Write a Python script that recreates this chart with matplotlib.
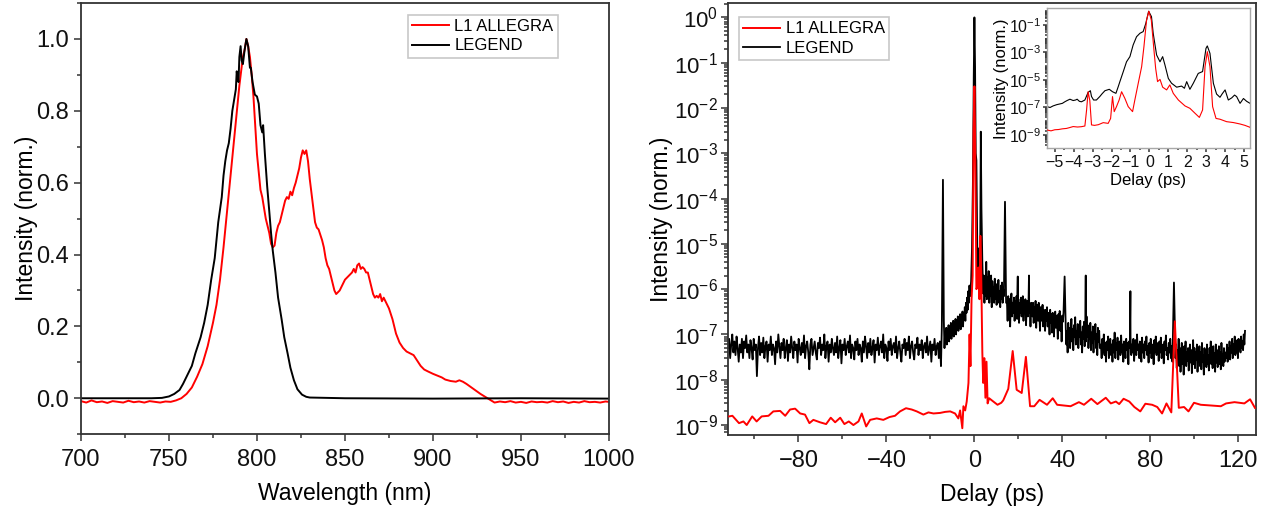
import numpy as np
import matplotlib
matplotlib.use("Agg")
import matplotlib.pyplot as plt
from matplotlib.ticker import MultipleLocator, FixedLocator, LogLocator, NullFormatter, FormatStrFormatter

plt.rcParams['font.family'] = ['Liberation Sans', 'DejaVu Sans']
plt.rcParams['mathtext.default'] = 'regular'
plt.rcParams['axes.unicode_minus'] = True

# ---------------- Left panel: spectra ----------------
spec_red_wl = [700, 703, 706, 709, 712, 715, 718, 721, 724, 727, 730, 733, 736, 739, 742, 745, 748, 751, 754,
               757, 760, 763, 766, 769, 772, 775, 777, 779, 781, 783, 785, 787, 789, 790, 791, 792, 793, 794,
               795, 796, 797, 798, 799, 800, 801, 802, 803, 804, 805, 806, 807, 808, 809, 810, 811, 812, 813,
               814, 815, 816, 817, 818, 819, 820, 821, 822, 823, 824, 825, 826, 827, 828, 829, 830, 831, 832,
               833, 834, 835, 836, 837, 838, 839, 840, 841, 842, 843, 844, 845, 846, 847, 848, 849, 850, 852,
               854, 855, 856, 857, 858, 859, 860, 861, 862, 863, 864, 865, 866, 867, 868, 869, 870, 871, 872,
               873, 875, 877, 879, 881, 883, 885, 887, 889, 891, 893, 895, 897, 900, 903, 905, 907, 910, 913,
               915, 917, 919, 921, 923, 925, 927, 929, 931, 933, 935, 938, 941, 944, 947, 950, 953, 956, 959,
               962, 965, 968, 971, 974, 977, 980, 983, 986, 989, 992, 995, 998, 1000]
spec_red_int = [-0.008, -0.012, -0.006, -0.011, -0.009, -0.013, -0.008, -0.010, -0.012, -0.007, -0.011, -0.009,
                -0.012, -0.008, -0.010, -0.012, -0.009, -0.010, -0.006,
                0.000, 0.012, 0.030, 0.060, 0.095, 0.145, 0.21, 0.26, 0.33, 0.42, 0.52, 0.62, 0.72, 0.82, 0.87,
                0.91, 0.95, 0.97, 1.00,
                0.98, 0.95, 0.90, 0.84, 0.76, 0.68, 0.63, 0.58, 0.56, 0.53, 0.50, 0.48, 0.46, 0.43, 0.42, 0.425,
                0.46, 0.48, 0.49, 0.51, 0.53, 0.55, 0.56, 0.555, 0.575, 0.565, 0.585, 0.60, 0.62, 0.64, 0.67,
                0.69, 0.68, 0.69, 0.66, 0.61, 0.57, 0.53, 0.49, 0.475, 0.47, 0.455, 0.44, 0.42, 0.39, 0.37, 0.36,
                0.34, 0.32, 0.30, 0.29, 0.295, 0.30, 0.31, 0.32, 0.33, 0.34, 0.35, 0.36, 0.35, 0.37, 0.375, 0.36,
                0.365, 0.36, 0.35, 0.35, 0.33, 0.31, 0.29, 0.28, 0.285, 0.28, 0.29, 0.27, 0.28, 0.27, 0.25, 0.22,
                0.18, 0.155, 0.14, 0.13, 0.125, 0.12, 0.105, 0.09, 0.08, 0.075, 0.068, 0.062, 0.058, 0.052,
                0.048, 0.046, 0.05, 0.046, 0.04, 0.033, 0.026, 0.019, 0.012, 0.006, 0.0, -0.006, -0.012, -0.009,
                -0.011, -0.008, -0.012, -0.010, -0.013, -0.009, -0.011, -0.010, -0.012, -0.008, -0.011, -0.009,
                -0.013, -0.010, -0.012, -0.008, -0.011, -0.010, -0.012, -0.009, -0.010]

spec_blk_wl = [700, 720, 740, 746, 750, 753, 756, 758, 760, 763, 765, 768, 770, 772, 774, 776, 778, 780, 781,
               782, 783, 784, 785, 786, 787, 788, 788.5, 789, 789.5, 790, 790.7, 791.3, 792, 793, 794, 795, 796,
               796.5, 797.5, 798.8, 800, 801, 802, 803, 803.5, 804.5, 805.8, 807, 808, 809, 810.5, 812, 814,
               815.5, 817.4, 819, 821, 823, 825.6, 828, 830, 850, 900, 950, 1000]
spec_blk_int = [0.0, 0.0, 0.0, 0.001, 0.005, 0.012, 0.023, 0.04, 0.06, 0.09, 0.125, 0.17, 0.21, 0.26, 0.33,
                0.39, 0.49, 0.56, 0.62, 0.66, 0.69, 0.71, 0.75, 0.80, 0.83, 0.86, 0.91, 0.89, 0.88, 0.95, 0.98,
                0.94, 0.93, 0.97, 1.00, 0.98, 0.92, 0.92, 0.88, 0.845, 0.84, 0.82, 0.76, 0.74, 0.76, 0.68, 0.59,
                0.52, 0.46, 0.41, 0.35, 0.28, 0.22, 0.17, 0.125, 0.085, 0.05, 0.025, 0.01, 0.004, 0.002, 0.0,
                -0.001, 0.0, -0.001]

# ---------------- Right panel: autocorrelation ----------------
ac_red_delay = [-111.5, -110, -107, -105, -103.5, -101, -99, -96.7, -93.6, -91.4, -88.3, -86, -83.8, -81.5,
                -79.2, -77, -75, -73.2, -70.2, -67.4, -65.3, -63.3, -61, -59.1, -57.1, -55, -52.7, -51.2,
                -49.2, -47.4, -44.4, -41.4, -38.6, -36.1, -33.8, -31.1, -28.5, -26.2, -23.2, -20.9, -18.6,
                -15.6, -13.3, -11, -8.8, -7.3, -6.5, -5.5, -5.0, -4.2, -3.5, -2.7, -2.2, -1.8, -1.3, -0.8,
                -0.4, 0.0, 0.4, 0.9, 1.3, 1.8, 2.3, 2.7, 3.1, 3.6, 4.0, 4.5, 5.0, 5.5, 6.0, 6.7, 8.6, 10.5,
                12.2, 13.1, 15.4, 17.4, 19.2, 21.5, 23.4, 25.3, 27.2, 29.6, 33, 35.6, 37.6, 40.6, 43.7, 47.5,
                49.8, 53.1, 55.9, 59.7, 62, 64.3, 65.8, 67.8, 70.4, 72.7, 75.4, 77.7, 80.8, 83.1, 85.3, 87.3,
                89.5, 91.1, 92.9, 95.3, 97.3, 99.8, 102.9, 107.5, 112, 114.4, 118.2, 122.7, 125.3, 127.5]
ac_red_int = [1.55e-9, 1.6e-9, 1.1e-9, 1.2e-9, 1.0e-9, 1.55e-9, 1.2e-9, 1.55e-9, 1.6e-9, 2.0e-9, 2.05e-9,
              1.6e-9, 2.2e-9, 2.3e-9, 1.8e-9, 1.7e-9, 1.1e-9, 1.3e-9, 1.15e-9, 1.05e-9, 1.45e-9, 1.15e-9,
              1.45e-9, 1.05e-9, 1.2e-9, 1.0e-9, 1.2e-9, 1.8e-9, 0.93e-9, 1.3e-9, 1.4e-9, 1.3e-9, 1.5e-9,
              1.6e-9, 2.0e-9, 2.35e-9, 2.2e-9, 2.0e-9, 1.7e-9, 1.9e-9, 1.8e-9, 1.85e-9, 1.95e-9, 2.0e-9,
              1.8e-9, 1.4e-9, 2.1e-9, 0.85e-9, 2.6e-9, 2.1e-9, 3.3e-9, 8.5e-9, 1.0e-7, 2e-8, 6e-7, 2e-6,
              3e-3, 3e-2, 1e-3, 1e-6, 1.1e-6, 3e-6, 6e-7, 1.5e-5, 2e-6, 4e-8, 8.5e-9, 3e-8, 4e-9, 2.5e-8,
              3e-9, 3.9e-9, 3.3e-9, 2.8e-9, 3.1e-9, 3.5e-9, 6.3e-9, 4.3e-8, 6e-9, 5.1e-9, 3.2e-8, 2.6e-9,
              2.6e-9, 3.6e-9, 2.8e-9, 3.9e-9, 2.8e-9, 2.7e-9, 2.6e-9, 3.2e-9, 2.8e-9, 3.8e-9, 2.9e-9,
              4.0e-9, 3.0e-9, 3.3e-9, 2.9e-9, 3.8e-9, 3.3e-9, 2.5e-9, 2.0e-9, 2.95e-9, 2.8e-9, 2.5e-9,
              1.8e-9, 3.0e-9, 1.9e-9, 1.95e-7, 2.4e-9, 2.5e-9, 2.0e-9, 3.1e-9, 2.8e-9, 2.7e-9, 2.6e-9,
              3.0e-9, 3.2e-9, 3.0e-9, 3.7e-9, 2.4e-9]

ac_blk_seg_a = [5, 8, 3, 6, 10, 4, 7, 3.5, 9, 5, 2.5, 6, 4, 8, 3, 7, 5, 9.5, 4, 6,
                3, 7.5, 5, 2.8, 8, 4.5, 6, 1.2, 5, 9, 3.5, 6.5, 4, 8.5, 3, 5.5, 7, 2.5, 6, 4.5,
                9, 3.5, 6, 5, 2.2, 7, 4, 10, 5.5, 3, 6.5, 4.5, 8, 3, 5, 7.5, 2.6, 6, 4, 9,
                5, 3, 7, 4.5, 6, 2.4, 8, 5, 3.5, 6.5, 4, 9.5, 3, 5.5, 7, 4, 1.7, 6, 8, 3.5,
                5, 7, 4, 2.8, 6.5, 5, 8.5, 3.5, 6, 4.5, 10, 3, 5.5, 7, 2.5, 6, 4, 8, 5, 3.5,
                6.5, 4, 9, 3, 5, 7.5, 2.3, 6, 4.5, 8, 3.5, 5.5, 7, 4, 9.5, 3, 6, 5, 2.8, 7,
                4.5, 8, 3.5, 6, 5, 2.5, 7, 4, 9, 5.5, 3, 6.5, 4, 8, 3.5, 5, 7.5, 2.4, 6, 4.5,
                8.5, 3.5, 5.5, 7, 4, 10, 3, 6, 5, 2.6, 7, 4.5, 8, 3.5, 5.5, 6.5, 4, 9, 3, 5,
                7, 4, 2.5, 6, 5, 8, 3.5, 6.5, 4.5, 9, 3, 5.5, 7, 4, 2.8, 6, 5, 8.5, 3.5, 6,
                4.5, 7.5, 3, 5.5, 6.5, 4, 9, 3.5, 5, 7, 2.5, 6, 4.5, 8, 3.5, 5.5, 6.5, 3, 7, 2]
ac_blk_seg_b = [0.5, 1.1, 0.7, 1.4, 0.6, 1.2, 0.9, 1.6, 0.7, 1.3, 1.0, 1.8, 0.8, 1.5, 1.1, 2.0, 0.9, 1.7,
                1.3, 2.2, 1.0, 1.9, 1.4, 2.5, 1.2, 2.2, 1.6, 2.8, 1.3, 2.4, 1.8, 3.2, 1.5, 3.0, 2.2, 4.0,
                2.0, 5.0, 3.0, 6.5, 3.5, 9.0, 5.0, 12, 7.0]
ac_blk_seg_c = [8, 20, 5, 14, 7, 40, 6, 18, 9, 25, 5, 12, 7, 20, 4, 15, 8, 11, 5, 17, 6, 13, 4.5, 10, 7, 16,
                5, 9, 4, 12, 6, 14, 5, 10, 7]
ac_blk_seg_d = [5, 2, 7, 3, 6, 1.5, 4.5, 8, 2.5, 5, 3, 6.5, 2, 5.5, 3.5, 7, 2.2, 4, 6, 1.8,
                5, 3, 6.5, 2.5, 4.5, 7, 2, 5, 3.5, 6, 1.6, 4, 5.5, 2.5, 6, 3, 4.5, 1.5, 5, 3.5,
                2.5, 5, 1.8, 4, 3, 5.5, 1.4, 3.5, 4.5, 2, 5, 2.8, 1.2, 4, 3, 2, 4.5, 1.5, 3.5, 2.5,
                1.2, 3.5, 2, 4, 1.5, 3, 2.2, 1, 3.5, 1.8, 2.8, 1.1, 3, 2.2, 0.9, 2.5, 3.2, 1.4, 2.6, 1.8,
                0.8, 2.8, 1.5, 3.3, 1.2, 2.4, 0.7, 2.6, 1.9, 3]
ac_blk_seg_e = [1.5, 0.6, 1.2, 0.4, 1.8, 0.8, 1.4, 0.5, 1.1, 2.2, 0.7, 1.3, 0.45, 1.6, 0.9, 2.4, 0.6, 1.2,
                0.8, 1.7, 0.5, 1.4, 0.9, 2.0, 0.6, 1.1, 0.4, 1.5, 0.8, 1.9, 0.55, 1.3, 0.7, 2.5, 0.9, 1.6,
                0.5, 1.2, 0.8, 1.8, 0.45, 1.1, 0.65, 1.5, 0.4, 1.3, 0.8, 1.7, 0.5, 1.0, 0.35, 1.4, 0.7, 1.2,
                0.5]
ac_blk_seg_f = [6, 3, 8, 4, 10, 3.5, 6.5, 2.5, 7, 4.5, 9, 3, 5.5, 8, 3.5, 6, 2.5, 7.5, 4, 11,
                3, 6.5, 4.5, 8.5, 2.8, 5.5, 7, 3.5, 9.5, 4, 6, 2.5, 7, 5, 3, 8, 4.5, 6.5, 2.2, 7,
                5, 9, 3.5, 6, 4, 8, 2.6, 5.5, 7.5, 3.5, 10, 4.5, 6, 3, 7, 5, 2.5, 8.5, 4, 6,
                3, 7, 4.5, 9, 3.5, 5.5, 2.4, 6.5, 4, 8, 3, 6, 5, 2.2, 7.5, 4, 9, 3.5, 5, 6.5,
                2.6, 7, 4, 8.5, 3, 5.5, 6, 2.3, 7, 4.5, 9.5, 3.5, 5, 2.8, 6.5, 4, 8, 3, 5.5, 2.5]
ac_blk_seg_g = [3, 6, 1.8, 4.5, 2.5, 8, 2, 5, 1.5, 3.5, 6.5, 2.2, 4, 1.3, 5.5, 3, 7, 2, 4, 2.6,
                5, 1.6, 3.5, 6, 2.4, 4.5, 1.4, 3, 7.5, 2.2, 5, 1.8, 4, 2.8, 6, 1.5, 3.5, 2.5, 5.5, 2,
                4, 1.7, 6.5, 2.5, 3.5, 1.3, 5, 2.8, 4.5, 1.9, 6, 2.2, 3.5, 1.6, 5, 3, 7, 2.2, 4, 1.8,
                5.5, 2.6, 3.8, 1.5, 6, 2.4, 4.5, 1.9, 3.2, 5.5, 2.2, 4, 1.7, 6.5, 2.8, 3.6, 2, 5, 2.5, 4]
ac_blk_seg_h = [3, 6, 2.5, 5, 3.5, 7, 2.8, 5.5, 4, 8, 3, 6, 4.5, 9, 3.5, 6.5, 4, 7.5, 3, 8, 5, 6, 4, 9, 5,
                7, 4.5, 10, 6, 12]
ac_blk_segments = [(-112, -15.2, 1e-8, ac_blk_seg_a), (-13.6, -2.0, 1e-7, ac_blk_seg_b),
                   (4.0, 13.4, 1e-7, ac_blk_seg_c), (14.8, 40.5, 1e-7, ac_blk_seg_d),
                   (41.5, 57.0, 1e-7, ac_blk_seg_e), (57.5, 90.0, 1e-8, ac_blk_seg_f),
                   (91.4, 114.0, 1e-8, ac_blk_seg_g), (114.5, 123.0, 1e-8, ac_blk_seg_h)]
ac_blk_spike_delay = [-14.8, -14.3, -13.9, -1.5, -1.1, -0.7, -0.3, 0.0, 0.3, 0.6, 0.9, 1.2, 1.4, 1.6, 1.8,
                      2.0, 2.2, 2.4, 2.6, 2.9, 3.2, 3.6, 13.9, 14.4, 19.7, 24.8, 41.0, 50.6, 70.9, 90.7]
ac_blk_spike_int = [1.5e-7, 2.6e-4, 2e-7, 1.5e-6, 8e-6, 2e-4, 5e-2, 1.0, 8e-2, 1e-3, 7e-4, 2e-5, 3e-6, 8e-6,
                    2e-6, 6e-6, 1.5e-6, 7e-6, 3e-6, 3e-3, 6e-5, 4e-6, 8.5e-5, 5e-7, 1.9e-6, 2e-6, 1.9e-6,
                    2e-6, 9e-7, 1.4e-6]

# ---------------- Inset ----------------
in_blk_delay = [-5.41, -5.25, -5.09, -4.9, -4.74, -4.6, -4.47, -4.35, -4.2, -4.03, -3.9, -3.82, -3.7, -3.59,
                -3.41, -3.24, -3.12, -3.06, -2.95, -2.8, -2.62, -2.5, -2.35, -2.12, -1.95, -1.77, -1.65,
                -1.56, -1.38, -1.21, -1.03, -0.86, -0.68, -0.5, -0.33, -0.19, -0.04, 0.11, 0.2, 0.38, 0.56,
                0.7, 0.82, 1.0, 1.17, 1.44, 1.7, 1.85, 1.97, 2.14, 2.32, 2.58, 2.81, 2.99, 3.06, 3.2, 3.38,
                3.55, 3.73, 3.85, 4.0, 4.17, 4.35, 4.5, 4.61, 4.79, 4.97, 5.14, 5.32]
in_blk_int = [1.15e-7, 1.0e-7, 1.3e-7, 1.6e-7, 1.8e-7, 2e-7, 2.6e-7, 3.2e-7, 4e-7, 3.2e-7, 3.5e-7, 4e-7,
              2.8e-7, 2.6e-7, 3.5e-7, 1.25e-6, 1.66e-6, 6.3e-7, 3.5e-7, 3.5e-7, 6.3e-7, 1e-6, 1.66e-6, 2.1e-6,
              1.4e-6, 1.07e-6, 3.2e-6, 7.6e-6, 4.1e-5, 2.1e-4, 5e-4, 3.5e-3, 1.4e-2, 2.5e-2, 3.3e-2, 0.13,
              1.0, 0.4, 2.5e-2, 6.6e-4, 2.1e-4, 5e-4, 1.26e-4, 1.3e-5, 5.8e-6, 3e-6, 3.6e-6, 2.5e-6, 7.6e-6,
              2.1e-6, 5.8e-6, 3e-5, 4.1e-5, 2e-3, 3e-3, 8.7e-4, 5.8e-6, 9.5e-7, 5.5e-7, 1e-6, 1.9e-6, 3.5e-7,
              5e-7, 8e-7, 6.2e-7, 2e-7, 4.5e-7, 2.8e-7, 2e-7]
in_red_delay = [-5.41, -5.2, -5.0, -4.8, -4.6, -4.38, -4.2, -4.03, -3.8, -3.6, -3.41, -3.32, -3.24, -3.15,
                -3.06, -2.9, -2.7, -2.44, -2.18, -2.05, -1.95, -1.86, -1.74, -1.6, -1.47, -1.3, -1.12, -0.89,
                -0.77, -0.59, -0.41, -0.29, -0.15, -0.03, 0.1, 0.24, 0.33, 0.43, 0.56, 0.7, 0.91, 1.08, 1.26,
                1.53, 1.88, 2.14, 2.41, 2.64, 2.81, 2.94, 3.06, 3.2, 3.34, 3.52, 3.73, 4.08, 4.44, 4.79, 5.05,
                5.32]
in_red_int = [2.3e-9, 2e-9, 2.4e-9, 2.5e-9, 2.8e-9, 3e-9, 3.5e-9, 4.1e-9, 3.8e-9, 4e-9, 4.5e-9, 6.6e-8,
              1.4e-6, 3.2e-7, 5.4e-9, 5e-9, 5.6e-9, 7.9e-9, 7e-9, 1.6e-8, 6.2e-7, 5e-8, 1.15e-7, 3.5e-7,
              1.4e-6, 4.7e-7, 1.15e-7, 5e-8, 3.5e-7, 5.8e-6, 9.3e-5, 2.6e-3, 0.23, 1.0, 0.23, 1.5e-3, 7e-5,
              7.6e-6, 1.1e-5, 3e-6, 1.9e-6, 4.4e-6, 1.07e-6, 3.5e-7, 1.3e-7, 8.7e-8, 3.8e-8, 1.9e-8, 6.6e-8,
              9.3e-5, 1.15e-3, 9.3e-5, 1.15e-7, 1.6e-8, 1.4e-8, 9.3e-9, 8e-9, 6.3e-9, 5e-9, 3.6e-9]

labels = ['L1 ALLEGRA', 'LEGEND']
RED = '#ff0000'
BLACK = '#000000'
SPINE = '#333333'

# assemble black trace
bx, by = [], []
for start, stop, unit, vals in ac_blk_segments:
    bx.extend(np.linspace(start, stop, len(vals)))
    by.extend(np.asarray(vals) * unit)
bx.extend(ac_blk_spike_delay)
by.extend(ac_blk_spike_int)
order = np.argsort(bx)
bx = np.asarray(bx)[order]
by = np.asarray(by)[order]

fig = plt.figure(figsize=(12.65, 5.09), dpi=100)
ax1 = fig.add_axes([0.064, 0.147, 0.4174, 0.847])
ax2 = fig.add_axes([0.5755, 0.1454, 0.4174, 0.848])
axin = fig.add_axes([0.8277, 0.7086, 0.1605, 0.275])

def style(ax, size, lw=1.3, color=SPINE):
    for s in ax.spines.values():
        s.set_color(color)
        s.set_linewidth(lw)
    ax.tick_params(which='both', direction='out', top=False, right=False, colors=SPINE,
                   labelcolor='#111111', labelsize=size, width=1.1)
    ax.tick_params(which='major', length=5)
    ax.tick_params(which='minor', length=3)

LEG = dict(borderaxespad=0, fontsize=12, frameon=True, fancybox=False, edgecolor='#c8c8c8',
           framealpha=1, handlelength=2.2, handletextpad=0.35, borderpad=0.25, labelspacing=0.25)

# left
ax1.plot(spec_red_wl, spec_red_int, color=RED, lw=1.4, label=labels[0])
ax1.plot(spec_blk_wl, spec_blk_int, color=BLACK, lw=1.4, label=labels[1])
ax1.set_xlim(700, 1000)
ax1.set_ylim(-0.1, 1.1)
ax1.xaxis.set_major_locator(MultipleLocator(50))
ax1.xaxis.set_minor_locator(MultipleLocator(25))
ax1.yaxis.set_major_locator(FixedLocator([0, 0.2, 0.4, 0.6, 0.8, 1.0]))
ax1.yaxis.set_minor_locator(MultipleLocator(0.1))
ax1.yaxis.set_major_formatter(FormatStrFormatter('%.1f'))
style(ax1, 17)
ax1.tick_params(axis='x', pad=5.5)
ax1.set_xlabel('Wavelength (nm)', fontsize=16.5, labelpad=8)
ax1.set_ylabel('Intensity (norm.)', fontsize=16.5, labelpad=-1.5)
leg1 = ax1.legend(loc='upper right', bbox_to_anchor=(0.903, 0.972), **LEG)
leg1.get_frame().set_linewidth(1.2)

# right
ax2.plot(bx, by, color=BLACK, lw=1.3, label=labels[1], zorder=2)
ax2.plot(ac_red_delay, ac_red_int, color=RED, lw=1.4, label=labels[0], zorder=3)
ax2.set_yscale('log')
ax2.set_xlim(-112, 128)
ax2.set_ylim(10**-9.22, 10**0.31)
ax2.xaxis.set_major_locator(FixedLocator([-80, -40, 0, 40, 80, 120]))
ax2.xaxis.set_minor_locator(FixedLocator([-100, -60, -20, 20, 60, 100]))
ax2.yaxis.set_major_locator(FixedLocator([10.0**k for k in range(-9, 1)]))
ax2.yaxis.set_minor_locator(LogLocator(base=10, subs=np.arange(2, 10), numticks=15))
ax2.yaxis.set_minor_formatter(NullFormatter())
style(ax2, 17)
ax2.tick_params(axis='x', pad=5.5)
ax2.tick_params(axis='y', pad=2, labelsize=16)
ax2.set_xlabel('Delay (ps)', fontsize=16.5, labelpad=8)
ax2.set_ylabel('Intensity (norm.)', fontsize=16.5, labelpad=1)
h, l = ax2.get_legend_handles_labels()
leg2 = ax2.legend([h[1], h[0]], [l[1], l[0]], loc='upper left', bbox_to_anchor=(0.021, 0.968), **LEG)
leg2.get_frame().set_linewidth(1.2)

# inset
axin.plot(in_blk_delay, in_blk_int, color=BLACK, lw=0.8, zorder=2)
axin.plot(in_red_delay, in_red_int, color=RED, lw=0.8, zorder=3)
axin.set_yscale('log')
axin.set_xlim(-5.41, 5.32)
axin.set_ylim(10**-9.97, 10**0.21)
axin.xaxis.set_major_locator(MultipleLocator(1))
axin.xaxis.set_minor_locator(MultipleLocator(0.5))
axin.yaxis.set_major_locator(FixedLocator([1e-9, 1e-7, 1e-5, 1e-3, 1e-1]))
axin.yaxis.set_minor_locator(LogLocator(base=10, subs=np.arange(1, 10), numticks=20))
axin.yaxis.set_minor_formatter(NullFormatter())
style(axin, 11.5, lw=1.0, color='#a8a8a8')
axin.tick_params(which='major', length=3)
axin.tick_params(which='minor', length=1.5)
axin.tick_params(axis='x', pad=2)
axin.tick_params(axis='y', pad=1)
axin.set_xlabel('Delay (ps)', fontsize=12, labelpad=2)
axin.set_ylabel('Intensity (norm.)', fontsize=12, labelpad=0)

fig.savefig('out.png', dpi=100)
